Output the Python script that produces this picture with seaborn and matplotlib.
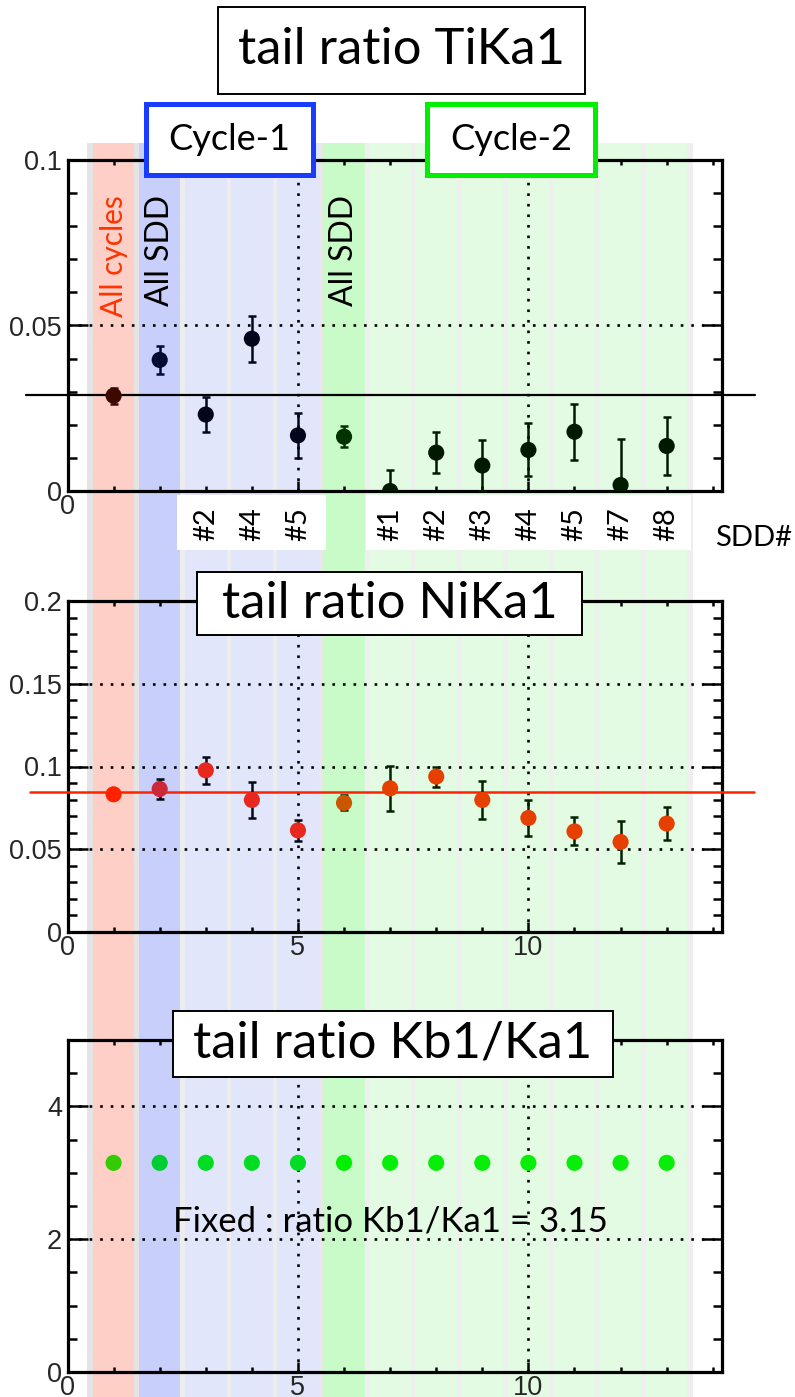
import numpy as np
import pandas as pd
import matplotlib
matplotlib.use("Agg")
import matplotlib.pyplot as plt
import seaborn as sns
from matplotlib.patches import Rectangle
from matplotlib.ticker import MultipleLocator, FixedLocator, FuncFormatter

# ---------------- data ----------------
positions = [1, 2, 3, 4, 5, 6, 7, 8, 9, 10, 11, 12, 13]
groups = ["all", "c1all", "c1", "c1", "c1", "c2all",
          "c2", "c2", "c2", "c2", "c2", "c2", "c2"]
sdd_labels = ["", "", "#2", "#4", "#5", "", "#1", "#2", "#3", "#4", "#5", "#7", "#8"]

ti_val = [0.0288, 0.0396, 0.0231, 0.0460, 0.0168, 0.0164,
          0.0000, 0.0116, 0.0077, 0.0124, 0.0179, 0.0018, 0.0136]
ti_err = [0.0024, 0.0042, 0.0054, 0.0069, 0.0067, 0.0032,
          0.0063, 0.0061, 0.0077, 0.0080, 0.0085, 0.0139, 0.0087]
ti_mean = 0.0291

ni_val = [0.0832, 0.0864, 0.0977, 0.0798, 0.0614, 0.0780,
          0.0868, 0.0939, 0.0798, 0.0689, 0.0608, 0.0544, 0.0655]
ni_err = [0.0000, 0.0060, 0.0080, 0.0107, 0.0065, 0.0045,
          0.0134, 0.0060, 0.0117, 0.0106, 0.0085, 0.0127, 0.0099]
ni_mean = 0.0846

kb_val = [3.15, 3.15, 3.15, 3.15, 3.15, 3.15, 3.15,
          3.15, 3.15, 3.15, 3.15, 3.15, 3.15]

df = pd.DataFrame({"pos": positions, "group": groups,
                   "ti": ti_val, "ti_err": ti_err,
                   "ni": ni_val, "ni_err": ni_err, "kb": kb_val})

# ---------------- styles ----------------
band_colors = {"all": "#fdcfc6", "c1all": "#c8cffb", "c1": "#e1e6fb",
               "c2all": "#c9fbc8", "c2": "#e2fbe2"}
gap_colors = {"all": "#e4e4e4", "c1all": "#e4e4e4", "c1": "#ededed",
              "c2all": "#e8e8e8", "c2": "#efefef"}
ti_colors = {"all": "#3d0800", "c1all": "#000a33", "c1": "#03051c",
             "c2all": "#003300", "c2": "#001a00"}
ti_ecolors = ti_colors
ni_colors = {"all": "#ff2200", "c1all": "#cc2838", "c1": "#e6281e",
             "c2all": "#cc5500", "c2": "#e64000"}
ni_ecolors = {"all": "#000814", "c1all": "#000814", "c1": "#000814",
              "c2all": "#002200", "c2": "#002200"}
kb_colors = {"all": "#33cc00", "c1all": "#00cc33", "c1": "#00dd22",
             "c2all": "#00f000", "c2": "#08ee08"}

sns.set_theme(style="white")
plt.rcParams["font.family"] = ["Liberation Sans", "DejaVu Sans"]
TFONT = ["Lato", "DejaVu Sans"]

W, H = 795, 1397
X0, PPU = 67.5, 46.09          # pixel of x=0 and pixels per unit
XMAX = (722 - X0) / PPU

fig = plt.figure(figsize=(W / 100, H / 100), dpi=100)

# background axes: x in data units, y in pixels from top
bg = fig.add_axes([0, 0, 1, 1], zorder=0)
bg.set_xlim(-X0 / PPU, (W - X0) / PPU)
bg.set_ylim(H, 0)
bg.axis("off")
band_top = 143
for p, g in zip(positions, groups):
    bg.add_patch(Rectangle((p - 0.57, band_top), 1.14, H - band_top,
                           color=gap_colors[g], lw=0, zorder=1))
for p, g in zip(positions, groups):
    bg.add_patch(Rectangle((p - 0.45, band_top), 0.9, H - band_top,
                           color=band_colors[g], lw=0, zorder=2))
# white label strips below the top panel
bg.add_patch(Rectangle((2.37, 495), 5.6 - 2.37, 55, color="white", lw=0, zorder=3))
bg.add_patch(Rectangle((6.47, 495), 13.53 - 6.47, 55, color="white", lw=0, zorder=3))
for p, lab in zip(positions, sdd_labels):
    if lab:
        bg.text(p, 524, lab, rotation=90, ha="center", va="center",
                fontsize=21, family=TFONT, color="black", zorder=4)


def make_panel(rect):
    ax = fig.add_axes(rect, zorder=1)
    ax.set_facecolor("none")
    ax.set_xlim(0, XMAX)
    for s in ax.spines.values():
        s.set_visible(True)
        s.set_linewidth(2.3)
        s.set_color("black")
    ax.xaxis.set_major_locator(FixedLocator([0, 5, 10]))
    ax.xaxis.set_minor_locator(MultipleLocator(1))
    ax.tick_params(which="both", direction="in", top=True, right=True,
                   bottom=True, left=True, color="black", width=1.8)
    ax.tick_params(axis="y", which="major", length=14.5, pad=4, labelsize=19.5)
    ax.tick_params(axis="y", which="minor", length=6.5)
    ax.tick_params(axis="x", which="major", length=7, pad=2, labelsize=19.5)
    ax.tick_params(axis="x", which="minor", length=3.5)
    ax.yaxis.set_major_formatter(FuncFormatter(lambda v, _: "%g" % round(v, 4)))
    ax.grid(True, which="major", color="black", linestyle=(0, (1, 3)), lw=1.9)
    ax.set_xlabel("")
    ax.set_ylabel("")
    return ax


def draw_points(ax, col, ecol, colors, ecolors):
    if ecol is not None:
        for g in ["all", "c1all", "c1", "c2all", "c2"]:
            sub = df[df.group == g]
            ax.errorbar(sub.pos, sub[col], yerr=sub[ecol], fmt="none",
                        ecolor=ecolors[g], elinewidth=1.8, capsize=3,
                        capthick=1.8, zorder=4)
    sns.scatterplot(data=df, x="pos", y=col, hue="group", palette=colors,
                    s=135, linewidth=0, legend=False, ax=ax, zorder=5)
    ax.set_xlabel("")
    ax.set_ylabel("")


def frac(top_px, bot_px):
    return [X0 / W, (H - bot_px) / H, (722 - X0) / W, (bot_px - top_px) / H]


# ---- top panel: TiKa1 ----
ax1 = make_panel(frac(160, 491))
draw_points(ax1, "ti", "ti_err", ti_colors, ti_ecolors)
ax1.set_xlim(0, XMAX)
ax1.set_ylim(0, 0.1)
ax1.yaxis.set_major_locator(FixedLocator([0, 0.05, 0.1]))
ax1.yaxis.set_minor_locator(MultipleLocator(0.01))
ax1.set_xticklabels(["0", "", ""])
ax1.axhline(ti_mean, xmin=-0.063, xmax=1.051, color="black", lw=1.6,
            clip_on=False, zorder=3)
ax1.text(1, 0.0895, "All cycles", rotation=90, ha="center", va="top",
         fontsize=21.5, family=TFONT, color="#ff3300")
ax1.text(2, 0.0895, "All SDD", rotation=90, ha="center", va="top",
         fontsize=23, family=TFONT, color="black")
ax1.text(6, 0.0895, "All SDD", rotation=90, ha="center", va="top",
         fontsize=23, family=TFONT, color="black")

# ---- middle panel: NiKa1 ----
ax2 = make_panel(frac(601, 932))
draw_points(ax2, "ni", "ni_err", ni_colors, ni_ecolors)
ax2.set_xlim(0, XMAX)
ax2.set_ylim(0, 0.2)
ax2.yaxis.set_major_locator(FixedLocator([0, 0.05, 0.1, 0.15, 0.2]))
ax2.yaxis.set_minor_locator(MultipleLocator(0.01))
ax2.set_xticklabels(["0", "5", "10"])
ax2.axhline(ni_mean, xmin=-0.057, xmax=1.049, color="#ff2200", lw=1.8,
            clip_on=False, zorder=3)

# ---- bottom panel: Kb1/Ka1 ----
ax3 = make_panel(frac(1040, 1372))
draw_points(ax3, "kb", None, kb_colors, None)
ax3.set_xlim(0, XMAX)
ax3.set_ylim(0, 5)
ax3.yaxis.set_major_locator(FixedLocator([0, 2, 4]))
ax3.yaxis.set_minor_locator(MultipleLocator(0.5))
ax3.set_xticklabels(["0", "5", "10"])
ax3.text(7.0, 2.27, "Fixed : ratio Kb1/Ka1 = 3.15", ha="center", va="center",
         fontsize=25, family=TFONT, color="black")

# ---------------- overlay (pixel coordinates) ----------------
ov = fig.add_axes([0, 0, 1, 1], zorder=3)
ov.set_xlim(0, W)
ov.set_ylim(H, 0)
ov.axis("off")
ov.set_facecolor("none")


def box(x, y, w, h, ec, lw, text, size, tc="black"):
    ov.add_patch(Rectangle((x, y), w, h, fc="white", ec=ec, lw=lw, zorder=5))
    ov.text(x + w / 2, y + h / 2, text, ha="center", va="center",
            fontsize=size, family=TFONT, color=tc, zorder=6)


box(218, 7, 367, 87, "black", 1.4, "tail ratio TiKa1", 36.5)
box(146, 104, 167, 71, "#1a3cff", 3.6, "Cycle-1", 26)
box(427, 104, 168, 71, "#00ee00", 3.6, "Cycle-2", 26)
box(197, 572, 385, 63, "black", 1.4, "tail ratio NiKa1", 36.5)
box(173, 1011, 440, 66, "black", 1.4, "tail ratio Kb1/Ka1", 36.5)
ov.text(754, 538, "SDD#", ha="center", va="center", fontsize=21,
        family=TFONT, color="black")

fig.savefig("out.png", dpi=100)
